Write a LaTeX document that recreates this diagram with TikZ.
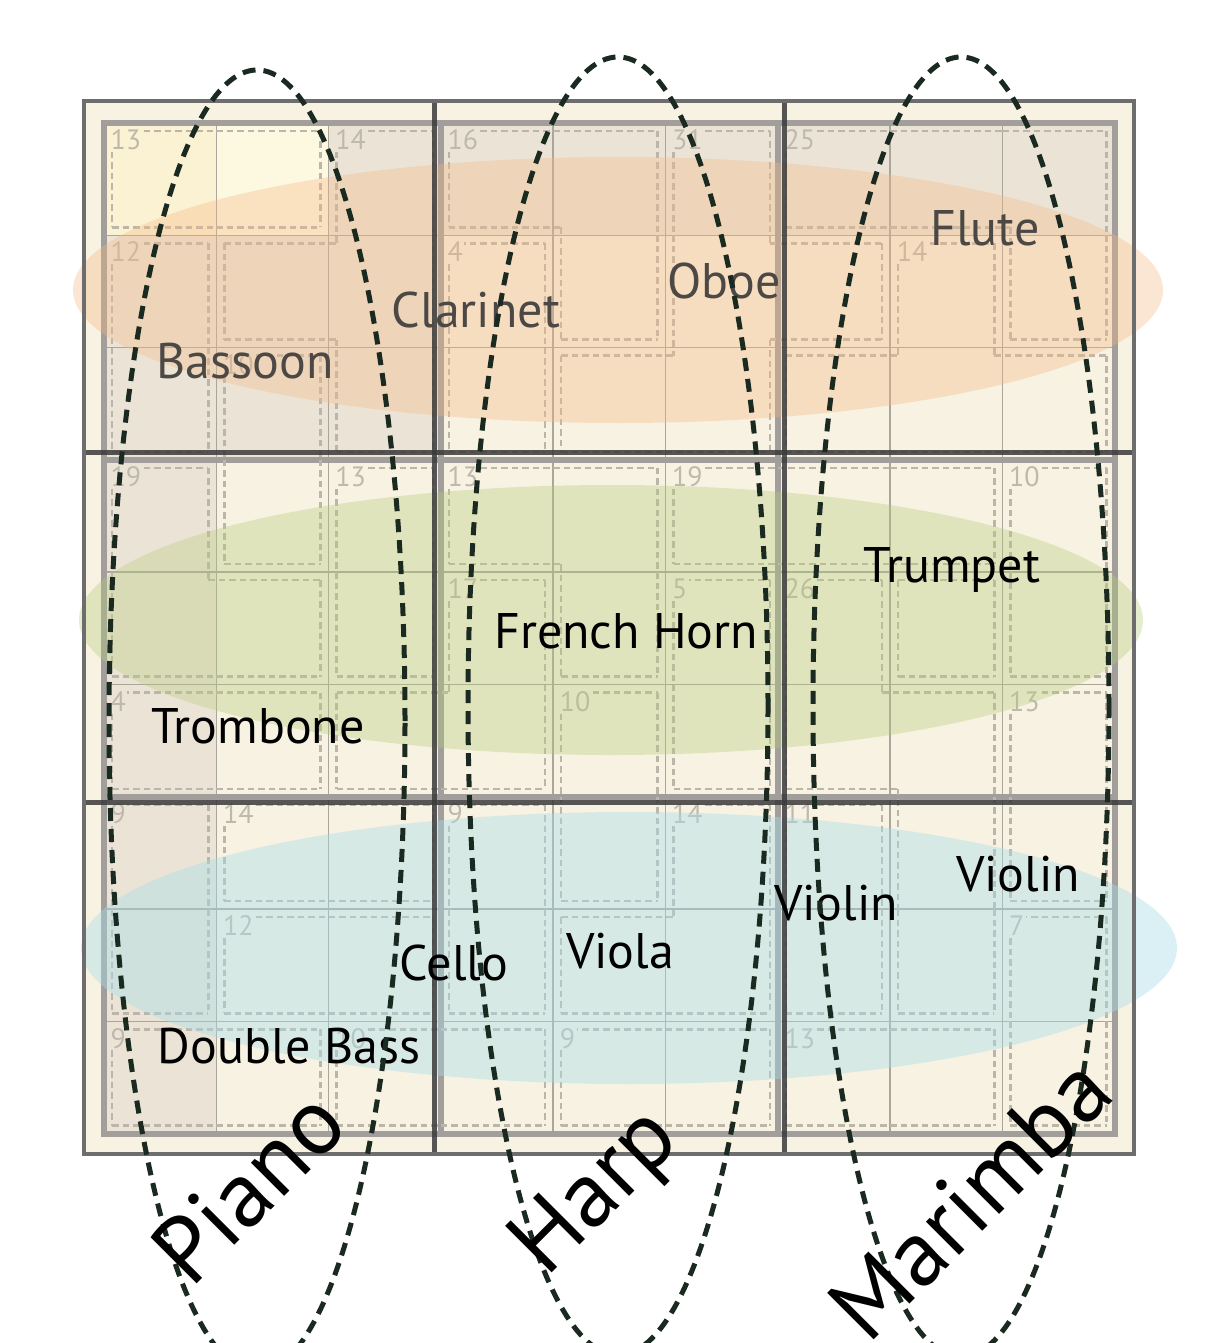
\documentclass[tikz,border=0pt]{standalone}
\usepackage{fontspec}
\setmainfont{PT Sans}

\definecolor{cream}{HTML}{F8F2E2}
\definecolor{beige}{HTML}{EBE4D6}
\definecolor{pickA}{HTML}{FBF2D3}
\definecolor{pickB}{HTML}{FDF8E0}
\definecolor{gridline}{HTML}{AAA59D}
\definecolor{boxline}{HTML}{A29E9C}
\definecolor{frameline}{HTML}{6D6D6D}
\definecolor{darkline}{HTML}{3A3A3A}
\definecolor{cageline}{HTML}{BCB5AA}
\definecolor{cagenum}{HTML}{BFB8AD}
\definecolor{woodwind}{HTML}{F5B882}
\definecolor{brass}{HTML}{B5CC7A}
\definecolor{strings}{HTML}{A8DDE9}
\definecolor{woodtext}{HTML}{4B4845}
\definecolor{ringline}{HTML}{1B2A20}

% cage of every cell, with a border of zeros
\def\cagemap{{{0,0,0,0,0,0,0,0,0,0,0},
  {0,1,1,2,3,3,4,5,5,5,0},
  {0,6,2,2,7,3,4,4,8,5,0},
  {0,6,9,2,7,4,4,8,8,8,0},
  {0,10,9,11,12,12,13,13,13,14,0},
  {0,10,10,11,15,12,16,17,18,14,0},
  {0,19,19,15,15,20,16,17,17,21,0},
  {0,22,23,23,24,20,25,26,17,21,0},
  {0,22,27,27,24,25,25,26,17,28,0},
  {0,29,29,30,30,31,31,32,32,28,0},
  {0,0,0,0,0,0,0,0,0,0,0}}}

\begin{document}
\begin{tikzpicture}
  [x=1pt,y=-1pt,
   cellgrid/.style={draw=gridline,line width=1.6pt},
   boxgrid/.style={draw=boxline,line width=6pt},
   bigbox/.style={draw=darkline,line width=5pt,opacity=.85},
   cage/.style={draw=cageline,line width=2.5pt,dash pattern=on 6.5pt off 4pt},
   cagesum/.style={text=cagenum,inner sep=1.5pt,anchor=north west,
                   font=\fontsize{28}{28}\selectfont},
   band/.style={fill opacity=.35},
   instr/.style={anchor=base,font=\fontsize{50}{60}\selectfont},
   ring/.style={draw=ringline,line width=5pt,dash pattern=on 13pt off 8pt},
   player/.style={font=\fontsize{94}{100}\selectfont,rotate=45}]
\useasboundingbox (0,0) rectangle (1223,1343);
\fill[white] (0,0) rectangle (1223,1343);

% board and cells
\fill[cream] (84,101) rectangle (1134,1154);
\foreach \r/\c in {1/3,1/4,1/5,1/6,1/7,1/8,1/9,
                   2/1,3/1,4/1,5/1,6/1,7/1,8/1,9/1,
                   2/2,2/3,3/2,3/3}
  \fill[beige] ({104+112.3*(\c-1)},{123+112.3*(\r-1)}) rectangle +(112.3,112.3);
\fill[pickA] (104,123) rectangle +(112.3,112.3);
\fill[pickB] (216.3,123) rectangle +(112.3,112.3);

\foreach \i in {1,...,8} {
  \draw[cellgrid] ({104+112.3*\i},123) -- +(0,1010.7);
  \draw[cellgrid] (104,{123+112.3*\i}) -- +(1010.7,0);
}
\foreach \i in {3,6} {
  \draw[boxgrid] ({104+112.3*\i},123) -- +(0,1010.7);
  \draw[boxgrid] (104,{123+112.3*\i}) -- +(1010.7,0);
}
\draw[boxgrid] (104,123) rectangle (1114.7,1133.7);

% killer cages
\foreach \r in {1,...,9} {
  \foreach \c in {1,...,9} {
    \pgfmathtruncatemacro\rup{\r-1}
    \pgfmathtruncatemacro\rdn{\r+1}
    \pgfmathtruncatemacro\clt{\c-1}
    \pgfmathtruncatemacro\crt{\c+1}
    \pgfmathtruncatemacro\me{\cagemap[\r][\c]}
    \pgfmathtruncatemacro\sU{\cagemap[\rup][\c]==\me}
    \pgfmathtruncatemacro\sD{\cagemap[\rdn][\c]==\me}
    \pgfmathtruncatemacro\sL{\cagemap[\r][\clt]==\me}
    \pgfmathtruncatemacro\sR{\cagemap[\r][\crt]==\me}
    \pgfmathtruncatemacro\sUL{\cagemap[\rup][\clt]==\me}
    \pgfmathtruncatemacro\sUR{\cagemap[\rup][\crt]==\me}
    \pgfmathtruncatemacro\sDL{\cagemap[\rdn][\clt]==\me}
    \pgfmathtruncatemacro\sDR{\cagemap[\rdn][\crt]==\me}
    \pgfmathsetmacro\xl{104+112.3*(\c-1)}
    \pgfmathsetmacro\xr{\xl+112.3}
    \pgfmathsetmacro\yt{123+112.3*(\r-1)}
    \pgfmathsetmacro\yb{\yt+112.3}
    \ifnum\sU=0
      \pgfmathsetmacro\ea{\sL ? (\sUL ? \xl-8 : \xl) : \xl+8}
      \pgfmathsetmacro\eb{\sR ? (\sUR ? \xr+8 : \xr) : \xr-8}
      \draw[cage] (\ea,\yt+8) -- (\eb,\yt+8);
    \fi
    \ifnum\sD=0
      \pgfmathsetmacro\ea{\sL ? (\sDL ? \xl-8 : \xl) : \xl+8}
      \pgfmathsetmacro\eb{\sR ? (\sDR ? \xr+8 : \xr) : \xr-8}
      \draw[cage] (\ea,\yb-8) -- (\eb,\yb-8);
    \fi
    \ifnum\sL=0
      \pgfmathsetmacro\ea{\sU ? (\sUL ? \yt-8 : \yt) : \yt+8}
      \pgfmathsetmacro\eb{\sD ? (\sDL ? \yb+8 : \yb) : \yb-8}
      \draw[cage] (\xl+8,\ea) -- (\xl+8,\eb);
    \fi
    \ifnum\sR=0
      \pgfmathsetmacro\ea{\sU ? (\sUR ? \yt-8 : \yt) : \yt+8}
      \pgfmathsetmacro\eb{\sD ? (\sDR ? \yb+8 : \yb) : \yb-8}
      \draw[cage] (\xr-8,\ea) -- (\xr-8,\eb);
    \fi
  }
}
\foreach \r/\c/\n/\bg in {1/1/13/pickA,1/3/14/beige,1/4/16/beige,1/6/31/beige,
    1/7/25/beige,2/1/12/beige,2/4/4/cream,2/8/14/cream,3/2/10/beige,
    4/1/19/beige,4/3/13/cream,4/4/13/cream,4/6/19/cream,4/9/10/cream,
    5/4/17/cream,5/6/5/cream,5/7/26/cream,6/1/4/beige,6/5/10/cream,
    6/9/13/cream,7/1/9/beige,7/2/14/cream,7/4/9/cream,7/6/14/cream,
    7/7/11/cream,8/2/12/cream,8/9/7/cream,9/1/9/beige,9/3/10/cream,
    9/5/9/cream,9/7/13/cream}
  \node[cagesum,fill=\bg] (sum\r\c) at ({104+112.3*(\c-1)+5},{123+112.3*(\r-1)+5}) {\n};

% sections
\fill[woodwind,band] (618,290) ellipse [x radius=545pt,y radius=133pt];
\fill[brass,band] (611,620) ellipse [x radius=532pt,y radius=135pt];
\fill[strings,band,fill opacity=.42] (629,948) ellipse [x radius=548pt,y radius=136pt];

\foreach \x in {434,784} \draw[bigbox] (\x,101) -- (\x,1154);
\foreach \y in {452,802} \draw[bigbox] (84,\y) -- (1134,\y);
\draw[frameline,line width=4.5pt] (84,101) rectangle (1134,1154);

% instruments
\node[instr,text=woodtext] (flute)    at (985,245)  {Flute};
\node[instr,text=woodtext] (oboe)     at (724,298)  {Oboe};
\node[instr,text=woodtext] (clarinet) at (476,327)  {Clarinet};
\node[instr,text=woodtext] (bassoon)  at (245,378)  {Bassoon};
\node[instr] (trumpet)  at (952,582)  {Trumpet};
\node[instr] (horn)     at (626,648)  {French Horn};
\node[instr] (trombone) at (258,743)  {Trombone};
\node[instr] (violinB)  at (1018,891) {Violin};
\node[instr] (violinA)  at (836,920)  {Violin};
\node[instr] (viola)    at (620,968)  {Viola};
\node[instr] (cello)    at (454,980)  {Cello};
\node[instr] (bass)     at (289,1063) {Double Bass};

\draw[ring] (257,721) ellipse [x radius=148pt,y radius=651pt];
\draw[ring] (618,706) ellipse [x radius=150pt,y radius=649pt];
\draw[ring] (961,707) ellipse [x radius=148pt,y radius=650pt];

\node[player] (piano)   at (248,1186) {Piano};
\node[player] (harp)    at (598,1194) {Harp};
\node[player] (marimba) at (970,1198) {Marimba};
\end{tikzpicture}
\end{document}
